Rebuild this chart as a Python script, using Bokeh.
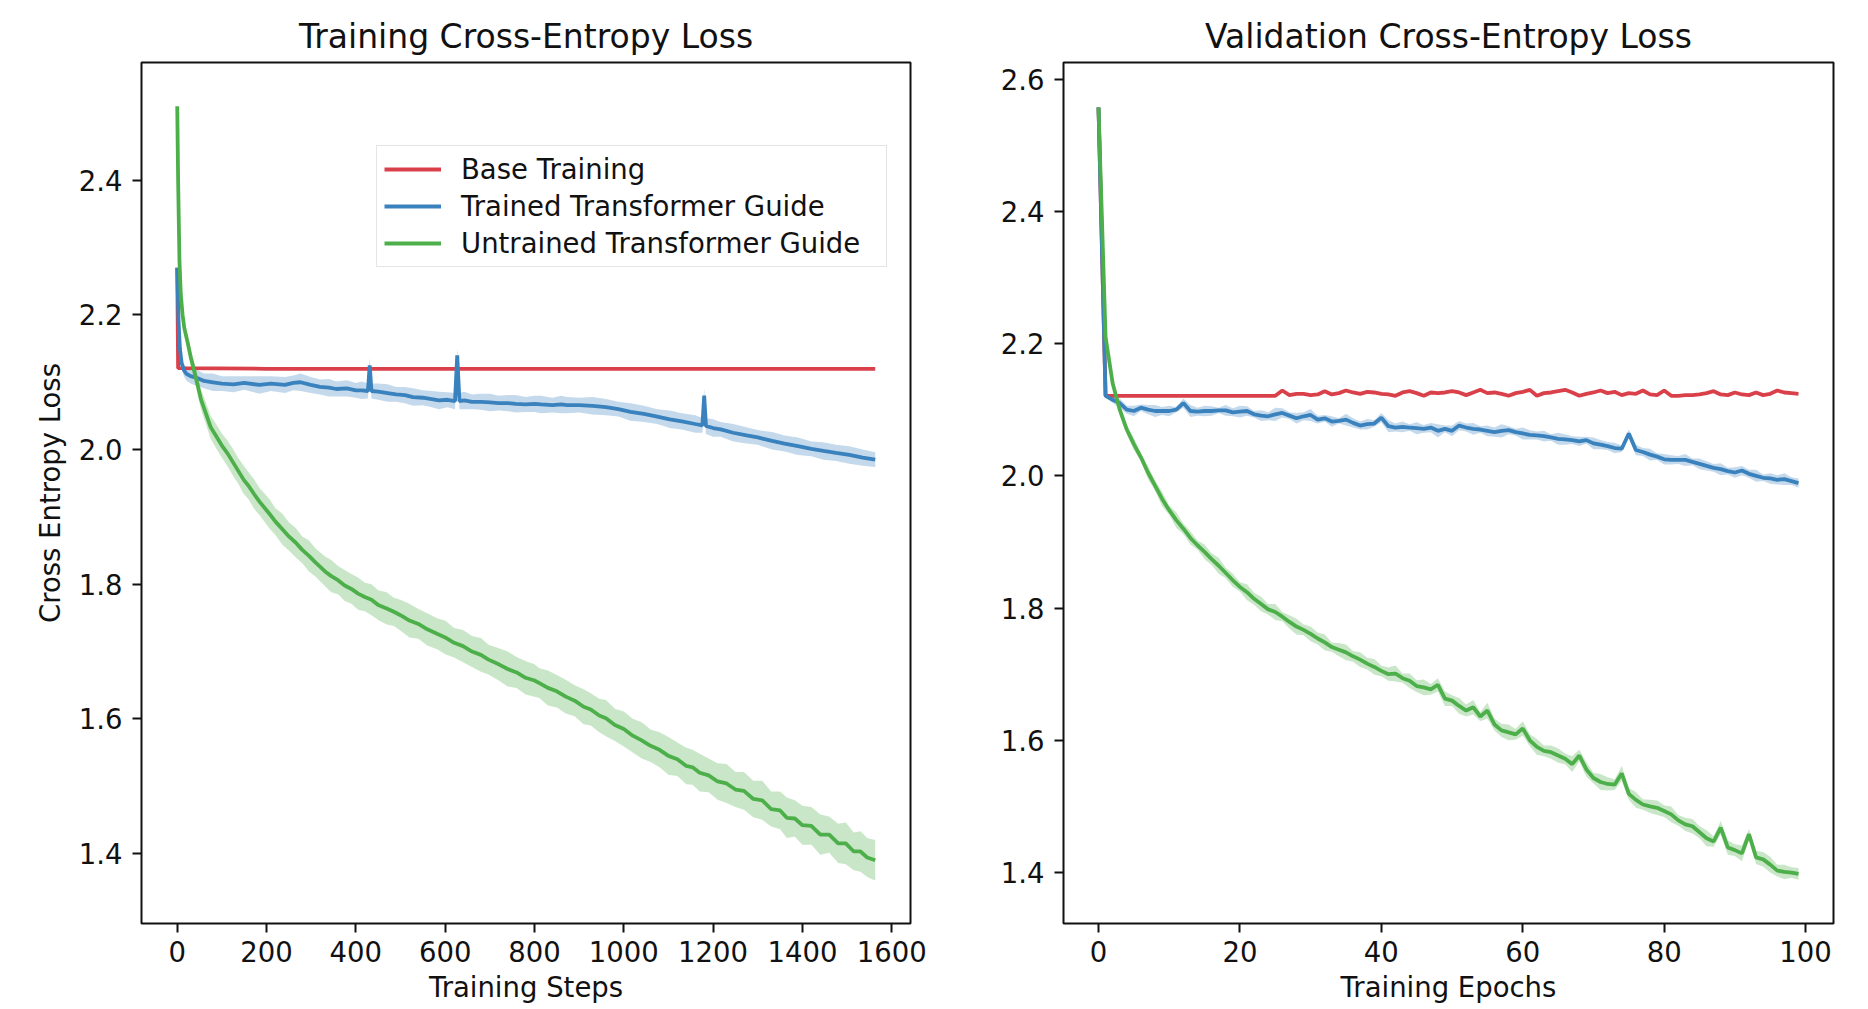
from bokeh.plotting import figure
from bokeh.layouts import row
from bokeh.models import FixedTicker, NumeralTickFormatter, Range1d, Legend, LegendItem
from bokeh.embed import file_html
from bokeh.resources import INLINE

# ---------------- data: training (per step) ----------------
train_red_steps = [0, 2, 200, 400, 600, 800, 1000, 1200, 1400, 1563]
train_red_loss = [2.270, 2.121, 2.120, 2.120, 2.120, 2.120, 2.120, 2.120, 2.120, 2.120]

train_blue_steps = [0, 3, 6, 10, 15, 20, 30, 46, 60, 80,
                    100, 126, 150, 184, 210, 241, 260, 276, 299, 320,
                    340, 356, 380, 400, 413, 427, 431, 435, 450, 471,
                    490, 510, 528, 550, 570, 586, 605, 622, 627, 632,
                    643, 660, 680, 700, 720, 740, 758, 780, 800, 815,
                    840, 860, 873, 900, 930, 960, 988, 1015, 1045, 1075,
                    1103, 1130, 1160, 1176, 1180, 1184, 1200, 1217, 1245, 1275,
                    1300, 1332, 1360, 1390, 1420, 1447, 1475, 1505, 1535, 1563]
train_blue_loss = [2.270, 2.190, 2.150, 2.128, 2.118, 2.113, 2.109, 2.106, 2.102, 2.100,
                   2.098, 2.097, 2.099, 2.096, 2.098, 2.096, 2.099, 2.100, 2.096, 2.093,
                   2.092, 2.090, 2.091, 2.088, 2.088, 2.087, 2.125, 2.087, 2.086, 2.084,
                   2.082, 2.081, 2.078, 2.077, 2.075, 2.073, 2.074, 2.072, 2.140, 2.072,
                   2.073, 2.071, 2.071, 2.070, 2.069, 2.069, 2.068, 2.067, 2.068, 2.067,
                   2.066, 2.067, 2.066, 2.066, 2.065, 2.063, 2.060, 2.056, 2.053, 2.049,
                   2.045, 2.042, 2.038, 2.036, 2.080, 2.035, 2.032, 2.030, 2.025, 2.021,
                   2.018, 2.013, 2.009, 2.005, 2.001, 1.998, 1.995, 1.992, 1.988, 1.985]
train_blue_hw = [0.000, 0.004, 0.006, 0.008, 0.009, 0.010, 0.011, 0.012, 0.011, 0.013,
                 0.011, 0.012, 0.010, 0.013, 0.011, 0.012, 0.011, 0.013, 0.012, 0.011,
                 0.013, 0.011, 0.012, 0.011, 0.013, 0.011, 0.011, 0.011, 0.012, 0.013,
                 0.011, 0.012, 0.013, 0.011, 0.012, 0.013, 0.011, 0.012, 0.011, 0.012,
                 0.013, 0.011, 0.012, 0.013, 0.011, 0.012, 0.013, 0.011, 0.012, 0.013,
                 0.011, 0.013, 0.012, 0.011, 0.013, 0.012, 0.011, 0.013, 0.012, 0.011,
                 0.013, 0.012, 0.013, 0.011, 0.011, 0.012, 0.013, 0.011, 0.013, 0.012,
                 0.011, 0.013, 0.012, 0.013, 0.011, 0.013, 0.012, 0.013, 0.012, 0.011]

train_green_steps = [0, 2, 5, 8, 12, 16, 23, 30, 38, 46,
                     53, 62, 75, 87, 100, 113, 125, 137, 149, 160,
                     172, 185, 195, 206, 220, 235, 250, 265, 280, 295,
                     310, 331, 345, 360, 375, 390, 405, 420, 435, 450,
                     469, 485, 500, 520, 540, 560, 583, 600, 620, 640,
                     660, 680, 697, 720, 740, 760, 780, 800, 811, 830,
                     850, 870, 890, 910, 926, 945, 960, 980, 1000, 1020,
                     1040, 1060, 1080, 1100, 1120, 1140, 1154, 1170, 1190, 1210,
                     1230, 1250, 1269, 1290, 1310, 1330, 1350, 1365, 1383, 1400,
                     1420, 1440, 1460, 1480, 1497, 1515, 1530, 1545, 1563]
train_green_loss = [2.510, 2.400, 2.280, 2.230, 2.200, 2.180, 2.160, 2.138, 2.117, 2.095,
                    2.075, 2.058, 2.033, 2.020, 2.006, 1.994, 1.981, 1.968, 1.955, 1.946,
                    1.934, 1.922, 1.914, 1.905, 1.893, 1.882, 1.871, 1.862, 1.851, 1.842,
                    1.832, 1.819, 1.812, 1.806, 1.798, 1.793, 1.786, 1.781, 1.777, 1.769,
                    1.764, 1.759, 1.754, 1.746, 1.741, 1.733, 1.726, 1.721, 1.713, 1.708,
                    1.700, 1.695, 1.688, 1.681, 1.674, 1.669, 1.661, 1.657, 1.653, 1.646,
                    1.641, 1.633, 1.627, 1.618, 1.614, 1.605, 1.601, 1.591, 1.585, 1.575,
                    1.568, 1.560, 1.554, 1.545, 1.540, 1.530, 1.528, 1.520, 1.516, 1.507,
                    1.504, 1.495, 1.493, 1.481, 1.479, 1.466, 1.464, 1.453, 1.452, 1.442,
                    1.441, 1.428, 1.428, 1.415, 1.415, 1.403, 1.403, 1.394, 1.390]
train_green_hw = [0.000, 0.004, 0.006, 0.008, 0.009, 0.010, 0.011, 0.012, 0.013, 0.014,
                  0.015, 0.016, 0.017, 0.018, 0.018, 0.019, 0.020, 0.019, 0.021, 0.020,
                  0.022, 0.020, 0.021, 0.022, 0.020, 0.023, 0.021, 0.022, 0.020, 0.023,
                  0.021, 0.022, 0.024, 0.021, 0.023, 0.022, 0.024, 0.021, 0.023, 0.022,
                  0.024, 0.021, 0.023, 0.025, 0.022, 0.024, 0.023, 0.025, 0.022, 0.024,
                  0.023, 0.025, 0.022, 0.024, 0.026, 0.023, 0.025, 0.024, 0.022, 0.026,
                  0.024, 0.025, 0.023, 0.026, 0.024, 0.025, 0.027, 0.024, 0.026, 0.025,
                  0.027, 0.024, 0.026, 0.028, 0.025, 0.027, 0.026, 0.028, 0.025, 0.027,
                  0.029, 0.026, 0.028, 0.027, 0.029, 0.026, 0.028, 0.030, 0.027, 0.029,
                  0.028, 0.030, 0.027, 0.029, 0.031, 0.028, 0.030, 0.029, 0.030]

# ---------------- data: validation (per epoch) ----------------
val_epochs = list(range(100))
val_red_loss = [2.557, 2.121, 2.121, 2.121, 2.121, 2.121, 2.121, 2.121, 2.121, 2.121,
                2.121, 2.121, 2.121, 2.121, 2.121, 2.121, 2.121, 2.121, 2.121, 2.121,
                2.121, 2.121, 2.121, 2.121, 2.121, 2.121, 2.129, 2.122, 2.124, 2.124,
                2.122, 2.123, 2.128, 2.123, 2.125, 2.129, 2.126, 2.124, 2.127, 2.126,
                2.124, 2.123, 2.121, 2.126, 2.128, 2.125, 2.121, 2.126, 2.125, 2.126,
                2.128, 2.126, 2.122, 2.126, 2.130, 2.125, 2.126, 2.124, 2.121, 2.125,
                2.127, 2.130, 2.121, 2.125, 2.126, 2.128, 2.130, 2.126, 2.121, 2.124,
                2.126, 2.129, 2.125, 2.127, 2.122, 2.125, 2.124, 2.129, 2.123, 2.122,
                2.129, 2.121, 2.121, 2.122, 2.122, 2.123, 2.125, 2.128, 2.123, 2.122,
                2.126, 2.123, 2.122, 2.126, 2.122, 2.124, 2.129, 2.126, 2.125, 2.124]
val_blue_loss = [2.557, 2.121, 2.115, 2.110, 2.100, 2.098, 2.103, 2.100, 2.098, 2.098,
                 2.098, 2.100, 2.110, 2.098, 2.097, 2.098, 2.098, 2.099, 2.099, 2.096,
                 2.097, 2.098, 2.093, 2.091, 2.090, 2.093, 2.095, 2.091, 2.087, 2.090,
                 2.092, 2.085, 2.087, 2.082, 2.083, 2.085, 2.080, 2.076, 2.078, 2.079,
                 2.088, 2.075, 2.073, 2.074, 2.073, 2.072, 2.071, 2.073, 2.068, 2.071,
                 2.068, 2.076, 2.073, 2.071, 2.070, 2.068, 2.066, 2.068, 2.069, 2.066,
                 2.064, 2.062, 2.061, 2.060, 2.058, 2.056, 2.055, 2.054, 2.052, 2.054,
                 2.049, 2.047, 2.045, 2.042, 2.041, 2.064, 2.039, 2.036, 2.032, 2.029,
                 2.025, 2.024, 2.024, 2.024, 2.021, 2.018, 2.015, 2.012, 2.010, 2.007,
                 2.005, 2.008, 2.003, 2.000, 1.997, 1.996, 1.994, 1.995, 1.992, 1.989]
val_blue_hw = [0.000, 0.002, 0.005, 0.007, 0.006, 0.008, 0.005, 0.007, 0.009, 0.006,
               0.008, 0.004, 0.007, 0.009, 0.006, 0.008, 0.007, 0.004, 0.008, 0.006,
               0.009, 0.007, 0.005, 0.008, 0.006, 0.010, 0.007, 0.005, 0.008, 0.006,
               0.009, 0.006, 0.005, 0.008, 0.004, 0.009, 0.007, 0.006, 0.008, 0.005,
               0.007, 0.009, 0.006, 0.008, 0.005, 0.009, 0.006, 0.007, 0.010, 0.005,
               0.008, 0.007, 0.006, 0.009, 0.005, 0.008, 0.007, 0.010, 0.006, 0.005,
               0.009, 0.007, 0.006, 0.008, 0.005, 0.009, 0.008, 0.006, 0.007, 0.005,
               0.009, 0.007, 0.006, 0.008, 0.005, 0.006, 0.008, 0.006, 0.009, 0.005,
               0.008, 0.007, 0.006, 0.009, 0.005, 0.008, 0.007, 0.006, 0.009, 0.005,
               0.008, 0.007, 0.006, 0.009, 0.005, 0.008, 0.007, 0.009, 0.006, 0.007]
val_green_loss = [2.557, 2.210, 2.140, 2.100, 2.070, 2.048, 2.028, 2.005, 1.985, 1.965,
                  1.948, 1.933, 1.920, 1.906, 1.895, 1.885, 1.874, 1.864, 1.853, 1.842,
                  1.832, 1.824, 1.814, 1.806, 1.798, 1.794, 1.787, 1.779, 1.772, 1.767,
                  1.761, 1.754, 1.748, 1.741, 1.737, 1.733, 1.727, 1.722, 1.716, 1.711,
                  1.705, 1.700, 1.701, 1.694, 1.690, 1.682, 1.680, 1.677, 1.684, 1.663,
                  1.660, 1.652, 1.645, 1.650, 1.636, 1.645, 1.624, 1.615, 1.612, 1.609,
                  1.618, 1.600, 1.590, 1.584, 1.582, 1.577, 1.572, 1.564, 1.577, 1.556,
                  1.543, 1.537, 1.534, 1.533, 1.550, 1.519, 1.510, 1.503, 1.500, 1.498,
                  1.493, 1.488, 1.479, 1.473, 1.470, 1.461, 1.452, 1.447, 1.468, 1.438,
                  1.434, 1.429, 1.458, 1.423, 1.420, 1.412, 1.403, 1.401, 1.400, 1.398]
val_green_hw = [0.000, 0.004, 0.006, 0.008, 0.007, 0.009, 0.006, 0.010, 0.008, 0.011,
                0.007, 0.012, 0.008, 0.010, 0.007, 0.011, 0.009, 0.012, 0.008, 0.010,
                0.007, 0.012, 0.009, 0.011, 0.008, 0.012, 0.007, 0.010, 0.012, 0.008,
                0.011, 0.009, 0.012, 0.007, 0.010, 0.012, 0.008, 0.011, 0.009, 0.012,
                0.008, 0.010, 0.012, 0.007, 0.011, 0.009, 0.012, 0.008, 0.010, 0.011,
                0.008, 0.012, 0.009, 0.011, 0.007, 0.012, 0.009, 0.010, 0.012, 0.008,
                0.011, 0.009, 0.012, 0.008, 0.010, 0.011, 0.008, 0.012, 0.009, 0.011,
                0.008, 0.012, 0.010, 0.008, 0.011, 0.009, 0.012, 0.008, 0.010, 0.011,
                0.009, 0.012, 0.008, 0.010, 0.011, 0.009, 0.012, 0.008, 0.010, 0.011,
                0.009, 0.012, 0.008, 0.010, 0.011, 0.012, 0.009, 0.011, 0.008, 0.009]

# ---------------- tick labels ----------------
train_xticks = [0, 200, 400, 600, 800, 1000, 1200, 1400, 1600]
train_yticks = [1.4, 1.6, 1.8, 2.0, 2.2, 2.4]
val_xticks = [0, 20, 40, 60, 80, 100]
val_yticks = [1.4, 1.6, 1.8, 2.0, 2.2, 2.4, 2.6]

series_names = ["Base Training", "Trained Transformer Guide", "Untrained Transformer Guide"]

RED = "#d9404a"
BLUE = "#3a82bd"
GREEN = "#4daf4a"
FONT = "DejaVu Sans"
FS = "27.5px"
LW = 3.8


def style(p, xticks, yticks, xlabel, ylabel):
    p.outline_line_color = "#111111"
    p.outline_line_width = 2
    p.xgrid.visible = False
    p.ygrid.visible = False
    p.background_fill_color = "white"
    p.border_fill_color = "white"
    p.title.text_font = FONT
    p.title.text_font_size = "33px"
    p.title.text_font_style = "normal"
    p.title.align = "center"
    p.title.text_color = "#111111"
    p.title.standoff = 13
    p.xaxis.ticker = FixedTicker(ticks=xticks)
    p.yaxis.ticker = FixedTicker(ticks=yticks)
    p.xaxis.formatter = NumeralTickFormatter(format="0")
    p.yaxis.formatter = NumeralTickFormatter(format="0.0")
    for ax in list(p.xaxis) + list(p.yaxis):
        ax.axis_line_color = None
        ax.major_tick_out = 9
        ax.major_tick_in = 0
        ax.major_tick_line_width = 2
        ax.major_tick_line_color = "#111111"
        ax.minor_tick_out = 0
        ax.minor_tick_in = 0
        ax.major_label_text_font = FONT
        ax.major_label_text_font_size = FS
        ax.major_label_text_color = "#111111"
        ax.axis_label_text_font = FONT
        ax.axis_label_text_font_size = FS
        ax.axis_label_text_font_style = "normal"
        ax.axis_label_text_color = "#111111"
    p.xaxis.major_label_standoff = 8
    p.yaxis.major_label_standoff = 10
    p.xaxis.axis_label = xlabel
    p.xaxis.axis_label_standoff = 6
    if ylabel:
        p.yaxis.axis_label = ylabel
        p.yaxis.axis_label_standoff = 10


# ---------------- left: training ----------------
p1 = figure(width=934, height=1009, output_backend="svg", toolbar_location=None,
            x_range=Range1d(-80, 1642), y_range=Range1d(1.296, 2.575),
            min_border_left=141, min_border_right=24, min_border_top=62, min_border_bottom=86,
            title="Training Cross-Entropy Loss")
style(p1, train_xticks, train_yticks, "Training Steps", "Cross Entropy Loss")

p1.varea(x=train_blue_steps,
         y1=[m - h for m, h in zip(train_blue_loss, train_blue_hw)],
         y2=[m + h for m, h in zip(train_blue_loss, train_blue_hw)],
         fill_color=BLUE, fill_alpha=0.3)
p1.varea(x=train_green_steps,
         y1=[m - h for m, h in zip(train_green_loss, train_green_hw)],
         y2=[m + h for m, h in zip(train_green_loss, train_green_hw)],
         fill_color=GREEN, fill_alpha=0.3)
r_red = p1.line(train_red_steps, train_red_loss, line_color=RED, line_width=LW)
r_blue = p1.line(train_blue_steps, train_blue_loss, line_color=BLUE, line_width=LW)
r_green = p1.line(train_green_steps, train_green_loss, line_color=GREEN, line_width=LW)

legend = Legend(items=[LegendItem(label=series_names[0], renderers=[r_red]),
                       LegendItem(label=series_names[1], renderers=[r_blue]),
                       LegendItem(label=series_names[2], renderers=[r_green])],
                location=(235, 656))
legend.label_text_font = FONT
legend.label_text_font_size = FS
legend.label_text_color = "#111111"
legend.glyph_width = 57
legend.glyph_height = 30
legend.label_height = 30
legend.label_width = 418
legend.label_standoff = 20
legend.spacing = 5
legend.padding = 7
legend.margin = 0
legend.border_line_color = "#cccccc"
legend.border_line_width = 1.5
legend.background_fill_alpha = 0.85
p1.add_layout(legend, "center")

# ---------------- right: validation ----------------
p2 = figure(width=934, height=1009, output_backend="svg", toolbar_location=None,
            x_range=Range1d(-4.95, 103.95), y_range=Range1d(1.323, 2.625),
            min_border_left=129, min_border_right=35, min_border_top=62, min_border_bottom=86,
            title="Validation Cross-Entropy Loss")
style(p2, val_xticks, val_yticks, "Training Epochs", None)

p2.varea(x=val_epochs,
         y1=[m - h for m, h in zip(val_blue_loss, val_blue_hw)],
         y2=[m + h for m, h in zip(val_blue_loss, val_blue_hw)],
         fill_color=BLUE, fill_alpha=0.3)
p2.varea(x=val_epochs,
         y1=[m - h for m, h in zip(val_green_loss, val_green_hw)],
         y2=[m + h for m, h in zip(val_green_loss, val_green_hw)],
         fill_color=GREEN, fill_alpha=0.3)
p2.line(val_epochs, val_red_loss, line_color=RED, line_width=LW)
p2.line(val_epochs, val_blue_loss, line_color=BLUE, line_width=LW)
p2.line(val_epochs, val_green_loss, line_color=GREEN, line_width=LW)

layout = row(p1, p2)
open("out.html", "w").write(file_html(layout, INLINE))
